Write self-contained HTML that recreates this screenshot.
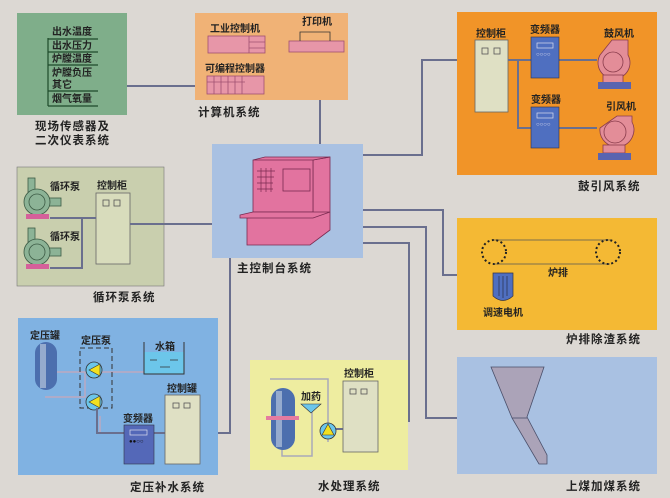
<!DOCTYPE html>
<html><head><meta charset="utf-8"><style>
html,body{margin:0;padding:0;background:#dcd8d3;}
svg{display:block;font-family:"Liberation Sans","Noto Sans CJK SC",sans-serif;}
.t{font-size:10px;fill:#222;font-weight:bold}
.L{font-size:11.5px;fill:#222;font-weight:bold;letter-spacing:1px}
.w{stroke:#6a6f8e;stroke-width:2;fill:none}
</style></head><body>
<svg width="670" height="498" viewBox="0 0 670 498">
<rect width="670" height="498" fill="#dcd8d3"/>
<!-- connectors -->
<path class="w" d="M127 86H208M320 100V145M363 155H422V60H475M363 210H443V275H457M363 227H426V418H457M363 243H409V421H378M164 224H212M200 433H230V258"/>
<!-- sensor box -->
<rect x="17" y="13" width="110" height="102" fill="#7fae8a"/>
<g class="t" fill="#143"><text x="52" y="35">出水温度</text><text x="52" y="49">出水压力</text><text x="52" y="62">炉膛温度</text><text x="52" y="76">炉膛负压</text><text x="52" y="88">其它</text><text x="52" y="102">烟气氧量</text></g>
<path d="M48 38V106M48 39H98M48 52H98M48 65H98M48 91H98M48 106H98" stroke="#1d4a2a" stroke-width="1.2" fill="none"/>
<text class="L" x="35" y="130">现场传感器及</text><text class="L" x="35" y="144">二次仪表系统</text>
<!-- computer -->
<rect x="195" y="13" width="153" height="87" fill="#f0b276"/>
<text class="t" x="210" y="32">工业控制机</text>
<rect x="208" y="36" width="57" height="17" fill="#e796a8" stroke="#a05070" stroke-width="0.8"/>
<path d="M249 36V53M249 42H265M249 48H265" stroke="#a05070" stroke-width="0.8"/>
<text class="t" x="302" y="25">打印机</text>
<rect x="289" y="41" width="55" height="11" fill="#e796a8" stroke="#a05070" stroke-width="0.8"/>
<path d="M300 41V32H330V41" stroke="#333" fill="none" stroke-width="0.8"/>
<text class="t" x="205" y="72">可编程控制器</text>
<rect x="207" y="76" width="57" height="18" fill="#e796a8" stroke="#a05070" stroke-width="0.8"/>
<path d="M214 76V94M221 76V94M228 76V94M235 76V94M242 76V94M207 82H245" stroke="#a05070" stroke-width="0.8"/>
<text class="L" x="198" y="116">计算机系统</text>
<!-- main console -->
<rect x="212" y="144" width="151" height="114" fill="#a9c1e2"/>
<path d="M247 218V245H310L330 230V157L313 160V213Z" fill="#e2739f" stroke="#7a2a50" stroke-width="0.8"/>
<path d="M253 160L265 157H330L313 160H253V212H313V160" fill="#e2739f" stroke="#7a2a50" stroke-width="0.8"/>
<path d="M240 215L253 212H330L313 218H240Z" fill="#e2739f" stroke="#7a2a50" stroke-width="0.8"/>
<rect x="283" y="169" width="27" height="22" fill="#e2739f" stroke="#7a2a50" stroke-width="0.8"/>
<path d="M257 171H275M257 177H274M257 183H273M257 189H273M261 168V192M266 168V192M271 168V192" stroke="#7a2a50" stroke-width="0.7"/>
<text class="L" x="237" y="272">主控制台系统</text>
<!-- fan system -->
<rect x="457" y="12" width="200" height="163" fill="#f19428"/>
<text class="t" x="476" y="37">控制柜</text>
<rect x="475" y="40" width="33" height="72" fill="#dfe0c4" stroke="#666" stroke-width="0.8"/>
<rect x="482" y="48" width="6" height="6" fill="none" stroke="#555" stroke-width="0.8"/><rect x="494" y="48" width="6" height="6" fill="none" stroke="#555" stroke-width="0.8"/>
<path class="w" d="M508 60H531M518 60V128H531M559 60H597M559 128H597" stroke-width="1.5"/>
<text class="t" x="530" y="33">变频器</text><text class="t" x="531" y="103">变频器</text>
<rect x="531" y="37" width="28" height="41" fill="#4f6fc0" stroke="#334" stroke-width="0.6"/>
<rect x="531" y="107" width="28" height="41" fill="#4f6fc0" stroke="#334" stroke-width="0.6"/>
<rect x="537" y="43" width="16" height="5" fill="none" stroke="#dde" stroke-width="0.7"/><rect x="537" y="113" width="16" height="5" fill="none" stroke="#dde" stroke-width="0.7"/>
<text x="536" y="56" font-size="6" fill="#dde">○○○○</text><text x="536" y="126" font-size="6" fill="#dde">○○○○</text>
<text class="t" x="604" y="37">鼓风机</text><text class="t" x="606" y="110">引风机</text>
<g fill="#e38d98" stroke="#8a3c4c" stroke-width="0.8">
<path d="M600 55A16 16 0 1 0 628 55V40H612Z"/><circle cx="613" cy="62" r="10" fill="none"/><rect x="603" y="75" width="20" height="8"/>
<path d="M600 128A17 17 0 1 0 632 122V116H617Z"/><circle cx="615" cy="132" r="11" fill="none"/><rect x="603" y="145" width="22" height="8"/></g>
<rect x="598" y="82" width="33" height="7" fill="#5a64b0"/><rect x="598" y="153" width="33" height="7" fill="#5a64b0"/>
<text class="L" x="578" y="190">鼓引风系统</text>
<!-- grate -->
<rect x="457" y="218" width="200" height="112" fill="#f4b934"/>
<path d="M494 240H610M494 264H610" stroke="#555" stroke-width="0.8"/>
<circle cx="494" cy="252" r="12" fill="none" stroke="#222" stroke-width="2" stroke-dasharray="2 2.5"/>
<circle cx="608" cy="252" r="12" fill="none" stroke="#222" stroke-width="2" stroke-dasharray="2 2.5"/>
<path d="M493 273H513V296Q503 305 493 296Z" fill="#4f6fc0" stroke="#334" stroke-width="0.7"/>
<path d="M499 276V296M503 276V298M507 276V296" stroke="#223" stroke-width="0.6"/>
<text class="t" x="548" y="276">炉排</text><text class="t" x="483" y="316">调速电机</text>
<text class="L" x="566" y="343">炉排除渣系统</text>
<!-- circ pump -->
<rect x="17" y="167" width="147" height="119" fill="#c9cfae" stroke="#777" stroke-width="0.6"/>
<text class="t" x="50" y="190">循环泵</text><text class="t" x="50" y="240">循环泵</text><text class="t" x="97" y="189">控制柜</text>
<rect x="96" y="193" width="34" height="71" fill="#d8dcbc" stroke="#666" stroke-width="0.8"/>
<rect x="103" y="200" width="6" height="6" fill="none" stroke="#555" stroke-width="0.8"/><rect x="114" y="200" width="6" height="6" fill="none" stroke="#555" stroke-width="0.8"/>
<path class="w" d="M50 218H96M82 218V268H50M130 224H164" stroke-width="1.5"/>
<g fill="#8cb396" stroke="#3c5a44" stroke-width="0.8"><rect x="28" y="178" width="7" height="14"/><rect x="45" y="198" width="16" height="8"/><circle cx="37" cy="202" r="13"/><circle cx="37" cy="202" r="8" fill="none"/>
<rect x="28" y="228" width="7" height="14"/><rect x="45" y="248" width="16" height="8"/><circle cx="37" cy="252" r="13"/><circle cx="37" cy="252" r="8" fill="none"/></g>
<rect x="26" y="214" width="23" height="5" fill="#d5609a"/><rect x="26" y="264" width="23" height="5" fill="#d5609a"/>
<text class="L" x="93" y="301">循环泵系统</text>
<!-- pressure -->
<rect x="18" y="318" width="200" height="157" fill="#80b2e2"/>
<path d="M45 372H85V397H45M98 372H145M115 433H100V416" stroke="#c9a7b9" stroke-width="1.2" fill="none"/>
<text class="t" x="30" y="339">定压罐</text><text class="t" x="81" y="344">定压泵</text>
<text class="t" x="167" y="392">控制罐</text><text class="t" x="123" y="422">变频器</text>
<rect x="35" y="342" width="22" height="48" rx="11" fill="#4c6fae"/><rect x="40" y="344" width="6" height="44" fill="#b5c4dc" opacity="0.7"/>
<rect x="80" y="348" width="32" height="60" fill="none" stroke="#333" stroke-dasharray="5 3"/>
<rect x="144" y="352" width="40" height="22" fill="#6cc6ea"/>
<path d="M144 342V374H184V342" stroke="#333" fill="none"/>
<text class="t" x="155" y="350">水箱</text>
<path d="M150 360H157M170 360H178M160 367H170" stroke="#333" stroke-width="0.7"/>
<g><circle cx="94" cy="370" r="8" fill="#6cc6ea" stroke="#333" stroke-width="0.8"/><path d="M89 370L100 364V376Z" fill="#f2e020" stroke="#333" stroke-width="0.6"/>
<circle cx="94" cy="402" r="8" fill="#6cc6ea" stroke="#333" stroke-width="0.8"/><path d="M89 402L100 396V408Z" fill="#f2e020" stroke="#333" stroke-width="0.6"/></g>
<path class="w" d="M97 408V433H124M154 433H165" stroke-width="1.5" stroke="#8a8aa6"/>
<rect x="124" y="425" width="30" height="39" fill="#5468b8" stroke="#334" stroke-width="0.6"/>
<rect x="130" y="430" width="17" height="5" fill="none" stroke="#dde" stroke-width="0.7"/><text x="129" y="443" font-size="6" fill="#111">●●○○</text>
<rect x="165" y="395" width="35" height="69" fill="#dfe0c4" stroke="#666" stroke-width="0.8"/>
<rect x="173" y="403" width="6" height="5" fill="none" stroke="#555" stroke-width="0.8"/><rect x="184" y="403" width="6" height="5" fill="none" stroke="#555" stroke-width="0.8"/>
<text class="L" x="130" y="491">定压补水系统</text>
<!-- water treatment -->
<rect x="250" y="360" width="158" height="110" fill="#eeeda0"/>
<path d="M270 379H328V442M282 442V456H312V408" stroke="#a9a9b9" stroke-width="1.5" fill="none"/>
<path d="M320 429H344" stroke="#6a6f8e" stroke-width="2"/>
<text class="t" x="344" y="377">控制柜</text><text class="t" x="301" y="400">加药</text>
<rect x="271" y="388" width="24" height="62" rx="12" fill="#4c6fae"/><rect x="276" y="391" width="6" height="56" fill="#b5c4dc" opacity="0.7"/>
<rect x="266" y="416" width="33" height="4" fill="#e57ba0"/>
<path d="M301 404H321L311 413Z" fill="#6cc6ea" stroke="#333" stroke-width="0.6"/>
<circle cx="328" cy="431" r="8" fill="#6cc6ea" stroke="#333" stroke-width="0.8"/><path d="M322 435L328 424L334 435Z" fill="#f2e020" stroke="#333" stroke-width="0.6"/>
<rect x="343" y="381" width="35" height="71" fill="#dfe0c4" stroke="#666" stroke-width="0.8"/>
<rect x="350" y="389" width="6" height="5" fill="none" stroke="#555" stroke-width="0.8"/><rect x="361" y="389" width="6" height="5" fill="none" stroke="#555" stroke-width="0.8"/>
<text class="L" x="318" y="490">水处理系统</text>
<!-- coal -->
<rect x="457" y="357" width="200" height="117" fill="#a9c1e2"/>
<path d="M491 367H544L527 417L547 455V464H539L512 418Z" fill="#aba3b8" stroke="#4a4f6a" stroke-width="0.8"/>
<path d="M512 418H527" stroke="#4a4f6a" stroke-width="0.8"/>
<text class="L" x="566" y="490">上煤加煤系统</text>
</svg>
</body></html>
